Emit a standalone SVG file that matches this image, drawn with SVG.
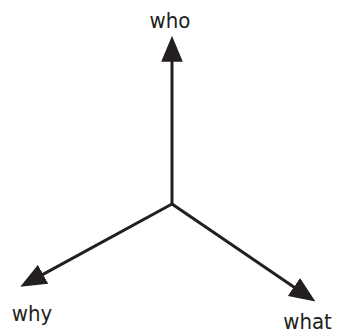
<svg xmlns="http://www.w3.org/2000/svg" width="337" height="333" viewBox="0 0 337 333">
<style>
  .lbl { font-family: "DejaVu Sans Condensed", "DejaVu Sans", Verdana, sans-serif; font-stretch: condensed; font-size: 22px; fill: #231f20; text-anchor: middle; }
  .conn { stroke: #231f20; stroke-width: 3; fill: none; marker-end: url(#ah); }
</style>
<defs>
  <marker id="ah" markerUnits="userSpaceOnUse" markerWidth="26" markerHeight="22" viewBox="0 0 24 20" refX="4" refY="10" orient="auto">
    <path d="M0,0 L24,10 L0,20 z" fill="#231f20"/>
  </marker>
</defs>
<rect width="337" height="333" fill="#ffffff"/>
<g id="connectors">
  <line class="conn" x1="172" y1="204" x2="172" y2="57.5"/>
  <line class="conn" x1="172" y1="204" x2="39.3" y2="276.4"/>
  <line class="conn" x1="172" y1="204" x2="297.5" y2="289.4"/>
</g>
<g id="who"><text class="lbl" x="170" y="28">who</text></g>
<g id="why"><text class="lbl" x="32" y="321">why</text></g>
<g id="what"><text class="lbl" x="307.5" y="329">what</text></g>
</svg>
